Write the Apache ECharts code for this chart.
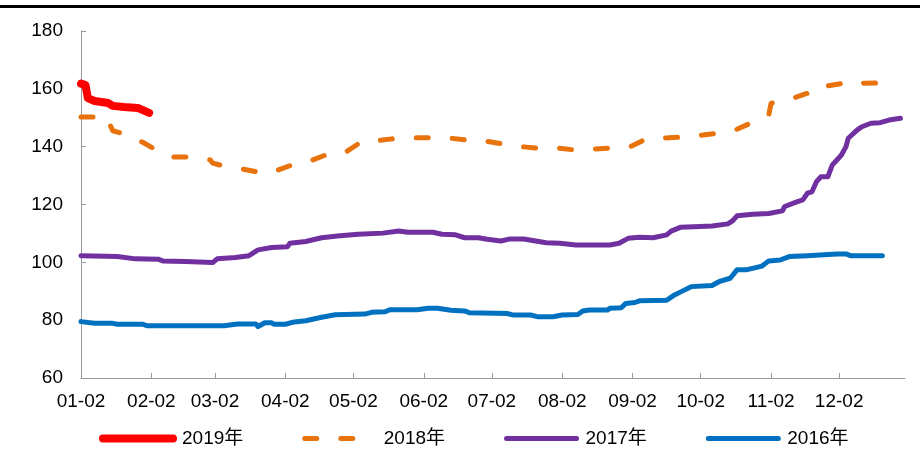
<!DOCTYPE html>
<html>
<head>
<meta charset="utf-8">
<script src="https://cdn.jsdelivr.net/npm/echarts@6/dist/echarts.min.js"></script>
<style>
  html, body { margin: 0; padding: 0; background: #fff; }
  #chart { width: 920px; height: 454px; }
</style>
</head>
<body>
<div id="chart"></div>
<script>
// Day-by-day category axis, 01-02 .. 12-31
var monthLengths = [31, 28, 31, 30, 31, 30, 31, 31, 30, 31, 30, 31];
var tickLabels = ['01-02', '02-02', '03-02', '04-02', '05-02', '06-02',
                  '07-02', '08-02', '09-02', '10-02', '11-02', '12-02'];
var yTicks = { min: 60, max: 180, step: 20 };

var seriesNames = ['2019年', '2018年', '2017年', '2016年'];

var values2019 = [
  ['01-02', 161.8], ['01-04', 161.3], ['01-05', 156.8], ['01-08', 155.8],
  ['01-14', 155.1], ['01-16', 154.1], ['01-21', 153.7], ['01-27', 153.4],
  ['01-29', 152.7], ['02-01', 151.7]
];

var values2018 = [
  ['01-02', 150.3], ['01-09', 150.3], ['01-14', 150.0], ['01-15', 147.2],
  ['01-16', 145.5], ['01-21', 144.4], ['01-29', 141.6], ['02-04', 138.9],
  ['02-11', 136.4], ['02-19', 136.4], ['02-28', 135.4], ['03-01', 134.3],
  ['03-06', 133.3], ['03-14', 132.3], ['03-21', 131.2], ['03-26', 130.8],
  ['03-30', 132.0], ['04-05', 133.7], ['04-14', 135.4], ['04-21', 137.5],
  ['04-28', 137.8], ['05-04', 140.9], ['05-09', 142.3], ['05-12', 142.0],
  ['05-19', 142.7], ['05-28', 143.1], ['06-05', 143.1], ['06-13', 143.0],
  ['06-21', 142.3], ['06-29', 142.0], ['07-06', 141.0], ['07-15', 140.0],
  ['07-22', 139.5], ['07-31', 139.5], ['08-07', 138.9], ['08-16', 139.2],
  ['08-23', 139.5], ['09-01', 140.0], ['09-08', 142.7], ['09-16', 143.0],
  ['09-24', 143.3], ['10-03', 144.0], ['10-10', 144.7], ['10-18', 146.0],
  ['10-25', 148.5], ['11-01', 151.0], ['11-02', 155.0], ['11-06', 155.9],
  ['11-13', 157.1], ['11-20', 159.0], ['11-23', 161.0], ['11-27', 161.0],
  ['12-05', 162.1], ['12-09', 162.8], ['12-12', 161.9], ['12-21', 162.1],
  ['12-28', 162.1]
];

var values2017 = [
  ['01-02', 102.3], ['01-18', 102.0], ['01-26', 101.2], ['02-05', 101.1],
  ['02-07', 100.5], ['02-17', 100.3], ['03-01', 99.9], ['03-03', 101.2],
  ['03-11', 101.7], ['03-17', 102.3], ['03-21', 104.3], ['03-27', 105.1],
  ['04-03', 105.4], ['04-04', 106.6], ['04-11', 107.2], ['04-18', 108.5],
  ['04-25', 109.1], ['05-04', 109.7], ['05-15', 110.1], ['05-22', 110.8],
  ['05-26', 110.4], ['06-06', 110.4], ['06-10', 109.7], ['06-16', 109.5],
  ['06-20', 108.5], ['06-26', 108.5], ['06-30', 108.0], ['07-06', 107.4],
  ['07-10', 108.1], ['07-16', 108.1], ['07-26', 106.8], ['08-01', 106.6],
  ['08-08', 106.0], ['08-23', 106.0], ['08-27', 106.6], ['08-31', 108.3],
  ['09-05', 108.7], ['09-11', 108.5], ['09-17', 109.5], ['09-19', 110.8],
  ['09-23', 112.1], ['09-29', 112.3], ['10-07', 112.6], ['10-14', 113.3],
  ['10-16', 114.3], ['10-18', 116.1], ['10-25', 116.6], ['11-01', 116.9],
  ['11-07', 117.8], ['11-08', 119.3], ['11-13', 120.8], ['11-16', 121.6],
  ['11-18', 123.9], ['11-20', 124.4], ['11-22', 127.9], ['11-24', 129.6],
  ['11-27', 129.6], ['11-29', 133.7], ['12-01', 135.4], ['12-03', 137.1],
  ['12-05', 140.0], ['12-06', 142.9], ['12-10', 145.8], ['12-12', 146.9],
  ['12-16', 148.1], ['12-20', 148.3], ['12-24', 149.2], ['12-29', 149.8]
];

var values2016 = [
  ['01-02', 79.5], ['01-08', 78.9], ['01-16', 78.9], ['01-18', 78.6],
  ['01-29', 78.6], ['01-31', 78.1], ['03-06', 78.1], ['03-12', 78.7],
  ['03-20', 78.7], ['03-21', 77.8], ['03-24', 79.1], ['03-27', 79.1],
  ['03-28', 78.6], ['04-02', 78.6], ['04-06', 79.4], ['04-11', 79.8],
  ['04-18', 81.0], ['04-24', 81.9], ['05-07', 82.1], ['05-10', 82.7],
  ['05-16', 82.9], ['05-18', 83.6], ['05-30', 83.6], ['06-04', 84.1],
  ['06-08', 84.1], ['06-14', 83.4], ['06-20', 83.2], ['06-22', 82.6],
  ['07-09', 82.3], ['07-11', 81.8], ['07-19', 81.8], ['07-22', 81.2],
  ['07-29', 81.2], ['08-02', 81.8], ['08-09', 82.0], ['08-11', 83.2],
  ['08-14', 83.5], ['08-22', 83.5], ['08-23', 84.1], ['08-28', 84.3],
  ['08-30', 85.8], ['09-03', 86.1], ['09-05', 86.7], ['09-17', 86.9],
  ['09-20', 88.5], ['09-23', 89.7], ['09-28', 91.6], ['10-07', 92.0],
  ['10-10', 93.3], ['10-15', 94.5], ['10-18', 97.4], ['10-22', 97.4],
  ['10-29', 98.7], ['11-01', 100.5], ['11-06', 100.8], ['11-10', 102.0],
  ['11-18', 102.3], ['12-01', 102.9], ['12-05', 102.9], ['12-07', 102.3],
  ['12-21', 102.3]
];

function pad(n) { return n < 10 ? '0' + n : '' + n; }
var days = [];
for (var m = 0; m < 12; m++) {
  for (var d = 1; d <= monthLengths[m]; d++) {
    if (m === 0 && d === 1) continue;
    days.push(pad(m + 1) + '-' + pad(d));
  }
}

function isTick(index, value) { return tickLabels.indexOf(value) >= 0; }

var FONT = '"Liberation Sans", Arial, "Noto Sans CJK SC", sans-serif';
var AXIS_GRAY = '#9a9a9a';

var chart = echarts.init(document.getElementById('chart'), null, { renderer: 'canvas' });

function lineSeries(name, data, color, width, dashed, z) {
  return {
    name: name,
    type: 'line',
    data: data,
    symbol: 'none',
    smooth: false,
    z: z,
    animation: false,
    lineStyle: {
      color: color,
      width: width,
      type: dashed ? [12, 24] : 'solid',
      cap: 'round',
      join: 'round'
    },
    itemStyle: { color: color }
  };
}

chart.setOption({
  animation: false,
  backgroundColor: '#ffffff',
  textStyle: { fontFamily: FONT },
  grid: { left: 81, right: 15, top: 31, bottom: 76, containLabel: false },
  graphic: [{
    type: 'line',
    shape: { x1: 0, y1: 6.5, x2: 920, y2: 6.5 },
    style: { stroke: '#000', lineWidth: 3 },
    silent: true
  }],
  legend: {
    data: seriesNames,
    left: 94,
    top: 424,
    itemWidth: 70,
    itemHeight: 14,
    itemGap: 59,
    lineStyle: { width: 'inherit', cap: 'round' },
    itemStyle: { opacity: 0 },
    textStyle: { fontFamily: FONT, fontSize: 19, color: '#000', padding: [0, 0, 0, 4] }
  },
  xAxis: {
    type: 'category',
    data: days,
    boundaryGap: false,
    axisLine: { show: true, lineStyle: { color: AXIS_GRAY, width: 1 } },
    axisTick: { show: true, inside: true, length: 5, interval: isTick, lineStyle: { color: AXIS_GRAY } },
    axisLabel: {
      interval: isTick,
      margin: 14,
      color: '#000',
      fontSize: 19,
      fontFamily: FONT
    },
    splitLine: { show: false }
  },
  yAxis: {
    type: 'value',
    min: yTicks.min,
    max: yTicks.max,
    interval: yTicks.step,
    axisLine: { show: true, lineStyle: { color: AXIS_GRAY, width: 1 } },
    axisTick: { show: true, inside: true, length: 5, lineStyle: { color: AXIS_GRAY } },
    axisLabel: { margin: 18, color: '#000', fontSize: 19, fontFamily: FONT },
    splitLine: { show: false }
  },
  series: [
    lineSeries(seriesNames[0], values2019, '#FF0000', 8, false, 5),
    lineSeries(seriesNames[1], values2018, '#E8720C', 5, true, 4),
    lineSeries(seriesNames[2], values2017, '#7030A0', 5, false, 3),
    lineSeries(seriesNames[3], values2016, '#0070C0', 5, false, 2)
  ]
});
</script>
</body>
</html>
